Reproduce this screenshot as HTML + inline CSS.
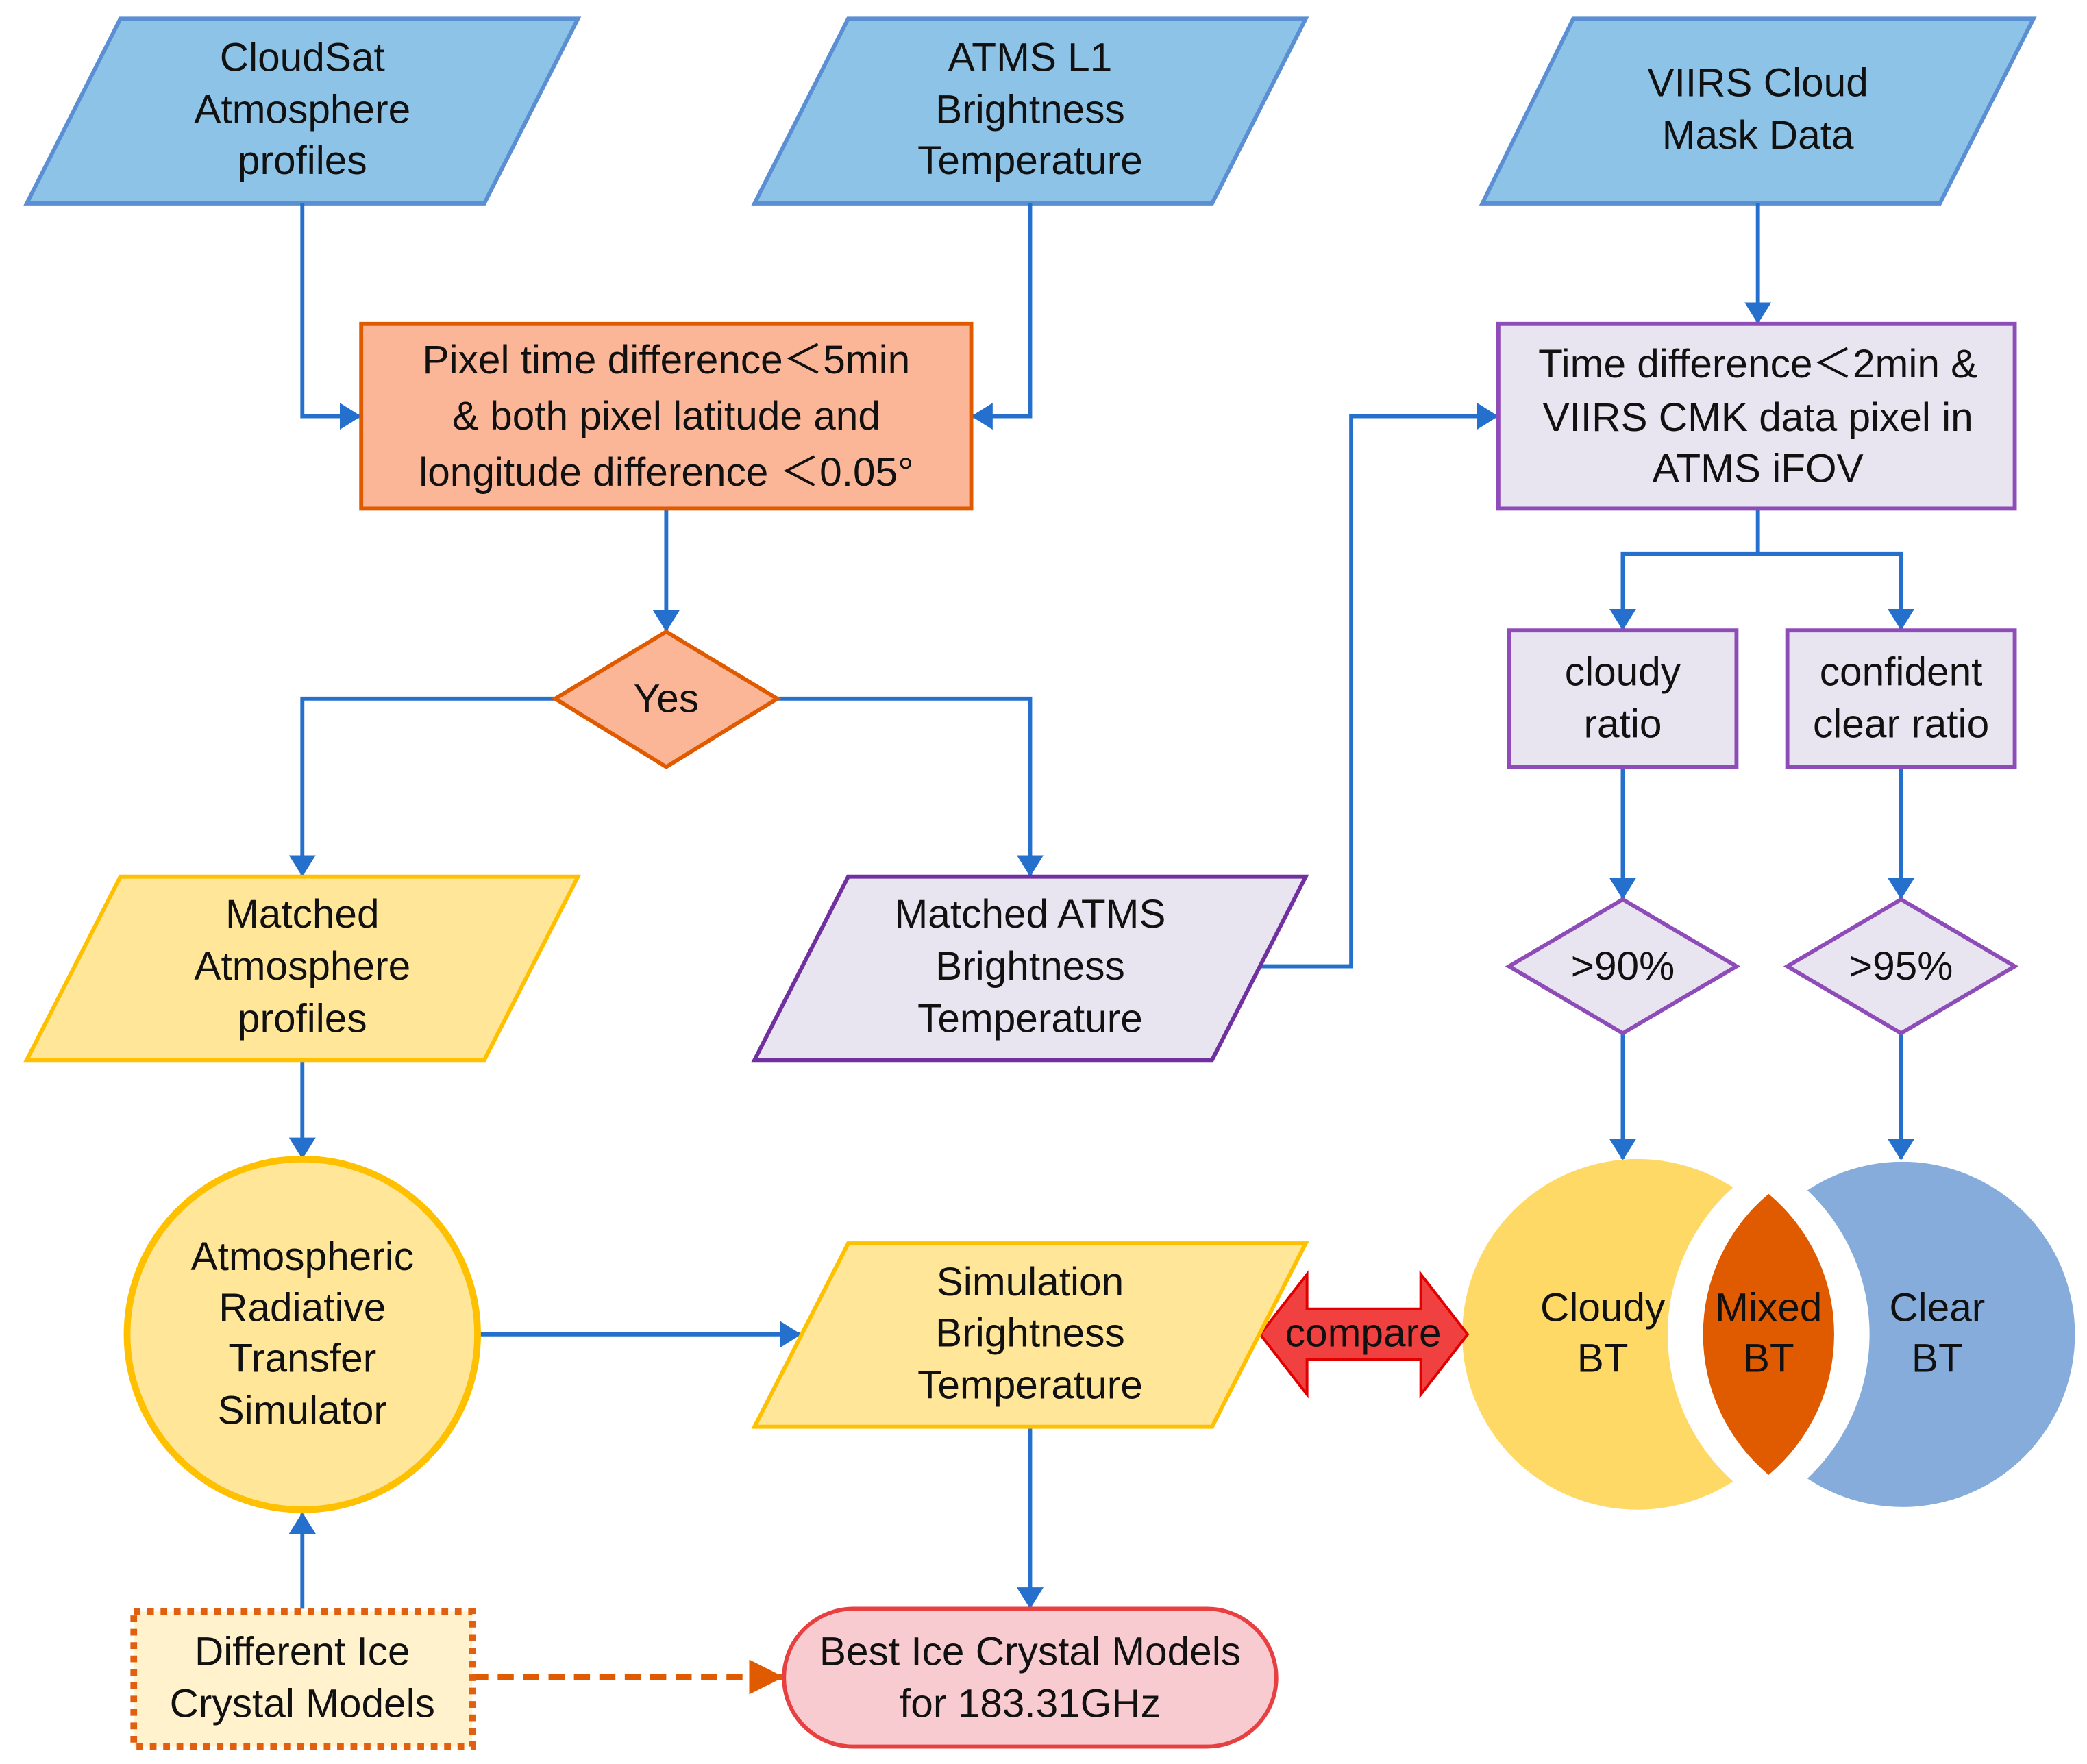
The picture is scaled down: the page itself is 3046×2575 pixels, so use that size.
<!DOCTYPE html>
<html><head><meta charset="utf-8"><style>html,body{margin:0;padding:0;background:#fff}svg{display:block}text{font-family:"Liberation Sans",Arial,sans-serif;font-size:30px;fill:#111;text-anchor:middle;dominant-baseline:central}</style></head>
<body>
<svg width="3046" height="2575" viewBox="0 0 1560 1318" preserveAspectRatio="none" xmlns="http://www.w3.org/2000/svg">
<defs>
<marker id="a" markerWidth="16" markerHeight="20" refX="15" refY="10" orient="auto" markerUnits="userSpaceOnUse" viewBox="0 0 16 20"><path d="M0,0 L16,10 L0,20 z" fill="#2470cc"/></marker>
<marker id="ao" markerWidth="26" markerHeight="26" refX="25" refY="13" orient="auto" viewBox="0 0 26 26" markerUnits="userSpaceOnUse"><path d="M0,0 L26,13 L0,26 z" fill="#e05a00"/></marker>
</defs>
<style>.c{fill:none;stroke:#2470cc;stroke-width:3;marker-end:url(#a)}</style>
<polygon points="90,14 432,14 362,152 20,152" fill="#8dc3e6" stroke="#5b8fd4" stroke-width="3"/>
<text x="226" y="43">CloudSat</text><text x="226" y="82">Atmosphere</text><text x="226" y="120">profiles</text>
<polygon points="634,14 976,14 906,152 564,152" fill="#8dc3e6" stroke="#5b8fd4" stroke-width="3"/>
<text x="770" y="43">ATMS L1</text><text x="770" y="82">Brightness</text><text x="770" y="120">Temperature</text>
<polygon points="1176,14 1520,14 1450,152 1108,152" fill="#8dc3e6" stroke="#5b8fd4" stroke-width="3"/>
<text x="1314" y="62">VIIRS Cloud</text><text x="1314" y="101">Mask Data</text>
<path class="c" d="M226,152 V311 H269"/>
<path class="c" d="M770,152 V311 H727"/>
<path class="c" d="M498,380 V471"/>
<path class="c" d="M415,522 H226 V654"/>
<path class="c" d="M581,522 H770 V654"/>
<path class="c" d="M942,722 H1010 V311 H1119"/>
<path class="c" d="M1314,152 V241"/>
<path class="c" d="M1314,380 V414 H1213 V470"/>
<path class="c" d="M1314,414 H1421 V470"/>
<path class="c" d="M1213,573 V671"/>
<path class="c" d="M1421,573 V671"/>
<path class="c" d="M1213,772 V866"/>
<path class="c" d="M1421,772 V866"/>
<path class="c" d="M226,792 V865"/>
<path class="c" d="M357,997 H598"/>
<path class="c" d="M770,1066 V1201"/>
<path class="c" d="M226,1202 V1131"/>
<path d="M353,1253 H585" fill="none" stroke="#e05a00" stroke-width="5" stroke-dasharray="12,7" marker-end="url(#ao)"/>
<rect x="270" y="242" width="456" height="138" fill="#fbb597" stroke="#e05a00" stroke-width="3"/>
<text x="498" y="269">Pixel time difference＜5min</text><text x="498" y="311">&amp; both pixel latitude and</text><text x="498" y="353">longitude difference ＜0.05°</text>
<polygon points="498,472 581,522 498,573 415,522" fill="#fbb597" stroke="#e05a00" stroke-width="3"/>
<text x="498" y="522">Yes</text>
<polygon points="90,655 432,655 362,792 20,792" fill="#ffe699" stroke="#ffc000" stroke-width="3"/>
<text x="226" y="683">Matched</text><text x="226" y="722">Atmosphere</text><text x="226" y="761">profiles</text>
<polygon points="634,655 976,655 906,792 564,792" fill="#e8e4f0" stroke="#7030a0" stroke-width="3"/>
<text x="770" y="683">Matched ATMS</text><text x="770" y="722">Brightness</text><text x="770" y="761">Temperature</text>
<rect x="1120" y="242" width="386" height="138" fill="#e8e4f0" stroke="#8e4cb8" stroke-width="3"/>
<text x="1314" y="272">Time difference＜2min &amp;</text><text x="1314" y="312">VIIRS CMK data pixel in</text><text x="1314" y="350">ATMS iFOV</text>
<rect x="1128" y="471" width="170" height="102" fill="#e8e4f0" stroke="#8e4cb8" stroke-width="3"/>
<text x="1213" y="502">cloudy</text><text x="1213" y="541">ratio</text>
<rect x="1336" y="471" width="170" height="102" fill="#e8e4f0" stroke="#8e4cb8" stroke-width="3"/>
<text x="1421" y="502">confident</text><text x="1421" y="541">clear ratio</text>
<polygon points="1213,672 1298,722 1213,772 1128,722" fill="#e8e4f0" stroke="#8e4cb8" stroke-width="3"/>
<text x="1213" y="722">&gt;90%</text>
<polygon points="1421,672 1506,722 1421,772 1336,722" fill="#e8e4f0" stroke="#8e4cb8" stroke-width="3"/>
<text x="1421" y="722">&gt;95%</text>
<circle cx="1224" cy="997" r="131" fill="#ffd966"/>
<circle cx="1422" cy="997" r="129" fill="#86acdc"/>
<path d="M1322,868 A148 148 0 0 0 1322,1126 A148 148 0 0 0 1322,868 Z" fill="#fff"/>
<path d="M1322,892 A137 137 0 0 0 1322,1102 A137 137 0 0 0 1322,892 Z" fill="#e05a00"/>
<text x="1198" y="977">Cloudy</text><text x="1198" y="1015">BT</text>
<text x="1322" y="977">Mixed</text><text x="1322" y="1015">BT</text>
<text x="1448" y="977">Clear</text><text x="1448" y="1015">BT</text>
<polygon points="942,997 977,952 977,978 1062,978 1062,952 1097,997 1062,1042 1062,1016 977,1016 977,1042" fill="#f04040" stroke="#e00000" stroke-width="2"/>
<text x="1019" y="996">compare</text>
<circle cx="226" cy="997" r="131" fill="#ffe699" stroke="#ffc000" stroke-width="5"/>
<text x="226" y="939">Atmospheric</text><text x="226" y="977">Radiative</text><text x="226" y="1015">Transfer</text><text x="226" y="1054">Simulator</text>
<polygon points="634,929 976,929 906,1066 564,1066" fill="#ffe699" stroke="#ffc000" stroke-width="3"/>
<text x="770" y="958">Simulation</text><text x="770" y="996">Brightness</text><text x="770" y="1035">Temperature</text>
<rect x="586" y="1202" width="368" height="103" rx="52" fill="#f8cbd0" stroke="#e84040" stroke-width="3"/>
<text x="770" y="1234">Best Ice Crystal Models</text><text x="770" y="1273">for 183.31GHz</text>
<rect x="100" y="1204" width="253" height="101" fill="#fff2cc" stroke="#e06010" stroke-width="5" stroke-dasharray="5,5"/>
<text x="226" y="1234">Different Ice</text><text x="226" y="1273">Crystal Models</text>
</svg>
</body></html>
